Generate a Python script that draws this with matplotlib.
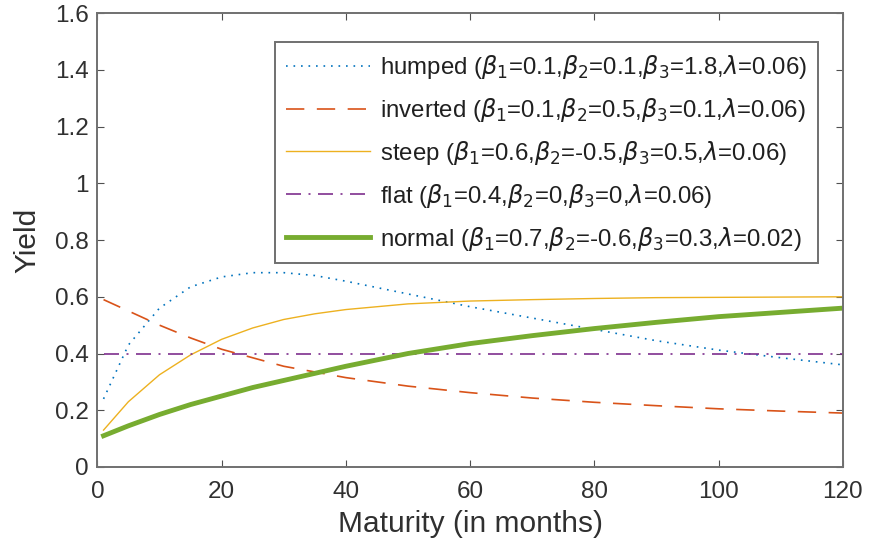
import matplotlib
matplotlib.use("Agg")
import matplotlib.pyplot as plt

maturity = [1, 5, 10, 15, 20, 25, 30, 35, 40, 50, 60, 70, 80, 90, 100, 110, 120]
humped   = [0.24, 0.43, 0.56, 0.635, 0.67, 0.685, 0.685, 0.675, 0.655, 0.61, 0.565, 0.525, 0.485, 0.445, 0.412, 0.385, 0.36]
inverted = [0.59, 0.55, 0.50, 0.455, 0.415, 0.385, 0.355, 0.335, 0.315, 0.285, 0.262, 0.243, 0.228, 0.216, 0.205, 0.197, 0.19]
steep    = [0.13, 0.23, 0.325, 0.395, 0.45, 0.49, 0.52, 0.54, 0.555, 0.575, 0.585, 0.59, 0.594, 0.597, 0.598, 0.599, 0.60]
flat     = [0.4] * len(maturity)
normal   = [0.11, 0.145, 0.185, 0.22, 0.25, 0.28, 0.305, 0.33, 0.355, 0.40, 0.435, 0.463, 0.488, 0.51, 0.53, 0.545, 0.56]

labels = [
    r'humped ($\beta_1$=0.1,$\beta_2$=0.1,$\beta_3$=1.8,$\lambda$=0.06)',
    r'inverted ($\beta_1$=0.1,$\beta_2$=0.5,$\beta_3$=0.1,$\lambda$=0.06)',
    r'steep ($\beta_1$=0.6,$\beta_2$=-0.5,$\beta_3$=0.5,$\lambda$=0.06)',
    r'flat ($\beta_1$=0.4,$\beta_2$=0,$\beta_3$=0,$\lambda$=0.06)',
    r'normal ($\beta_1$=0.7,$\beta_2$=-0.6,$\beta_3$=0.3,$\lambda$=0.02)',
]
xticks = [0, 20, 40, 60, 80, 100, 120]
yticks = [0, 0.2, 0.4, 0.6, 0.8, 1.0, 1.2, 1.4, 1.6]
ytick_labels = ['0', '0.2', '0.4', '0.6', '0.8', '1', '1.2', '1.4', '1.6']

plt.rcParams['font.family'] = ['Liberation Sans', 'DejaVu Sans']
plt.rcParams['mathtext.fontset'] = 'dejavusans'

fig = plt.figure(figsize=(8.69, 5.5), dpi=100)
ax = fig.add_axes([0.112, 0.151, 0.858, 0.825])

ax.plot(maturity, humped, color='#0072BD', linestyle=(0, (1, 3.5)), linewidth=1.2, label=labels[0])
ax.plot(maturity, inverted, color='#D95319', linestyle=(0, (11, 7.5)), linewidth=1.2, label=labels[1])
ax.plot(maturity, steep, color='#EDB120', linestyle='-', linewidth=1.0, label=labels[2])
ax.plot(maturity, flat, color='#7E2F8E', linestyle=(0, (9, 4.5, 1.2, 4.5)), linewidth=1.2, label=labels[3])
ax.plot(maturity, normal, color='#77AC30', linestyle='-', linewidth=3.5, label=labels[4])

ax.set_xlim(0, 120)
ax.set_ylim(0, 1.6)
ax.set_xticks(xticks)
ax.set_yticks(yticks)
ax.set_yticklabels(ytick_labels)
for s in ax.spines.values():
    s.set_color('#707070')
    s.set_linewidth(1.4)
ax.tick_params(direction='in', top=True, right=True, length=5, color='#505050',
               labelsize=17.5, labelcolor='#303030')
ax.tick_params(axis='x', pad=10)
ax.tick_params(axis='y', pad=6)
ax.set_xlabel('Maturity (in months)', fontsize=21.5, color='#303030', labelpad=5)
ax.set_ylabel('Yield', fontsize=21.5, color='#303030', labelpad=10)

leg = ax.legend(loc='upper right', bbox_to_anchor=(0.9665, 0.936), borderaxespad=0,
                fontsize=17.3, handlelength=3.5, handletextpad=0.43, borderpad=0.45,
                labelspacing=0.62, fancybox=False, framealpha=1, edgecolor='#707070')
leg.get_frame().set_linewidth(1.4)
for t in leg.get_texts():
    t.set_color('#202020')

fig.savefig('out.png', dpi=100)
